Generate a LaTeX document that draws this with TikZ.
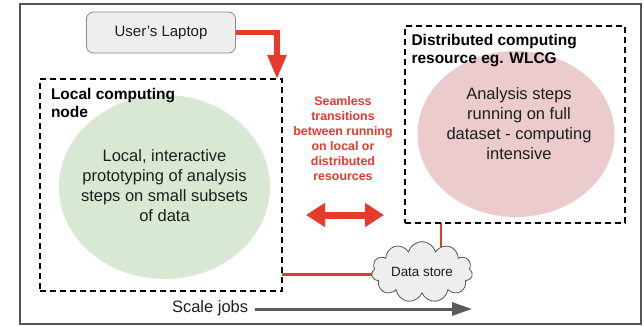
\documentclass[tikz,border=0pt]{standalone}
\usepackage{fontspec}
\setmainfont{Liberation Sans}
\usetikzlibrary{arrows.meta,shapes.geometric,shapes.symbols}

\definecolor{alertred}{HTML}{E63A2D}
\definecolor{framegray}{HTML}{555555}
\definecolor{localgreen}{HTML}{D9E8D3}
\definecolor{gridpink}{HTML}{EBCBCB}
\definecolor{boxgray}{HTML}{EEEEEE}
\definecolor{edgegray}{HTML}{8A8A8A}
\definecolor{jobgray}{HTML}{5A5A5A}
\definecolor{inkblack}{HTML}{1E1E1E}

\pgfdeclarelayer{links}
\pgfsetlayers{links,main}

\begin{document}
\begin{tikzpicture}[x=1pt, y=-1pt,
  every node/.style={inner sep=0pt, outer sep=0pt},
  dashbox/.style={draw=black, line width=1.4pt, dash pattern=on 6pt off 4pt},
  blob/.style={ellipse, fill=#1, draw=none},
  bodytext/.style={align=center, text=inkblack, font=\fontsize{16.5}{20}\selectfont},
  boxtitle/.style={align=left, text=black, font=\bfseries\fontsize{15.5}{18.5}\selectfont},
  redtext/.style={align=center, text=alertred, font=\bfseries\fontsize{12.4}{15}\selectfont},
  laptopbox/.style={draw=edgegray, line width=0.8pt, fill=boxgray, rounded corners=7pt,
    minimum width=149pt, minimum height=41pt, text=inkblack, font=\fontsize{15}{18}\selectfont},
  storecloud/.style={cloud, cloud puffs=11, aspect=2, draw=framegray, line width=0.8pt,
    fill=boxgray, minimum width=101pt, minimum height=51pt, text=inkblack,
    font=\fontsize{13.4}{16}\selectfont},
  feedarrow/.style={draw=alertred, line width=5.5pt, -{Triangle[length=24pt,width=18pt]}},
  swaparrow/.style={draw=alertred, line width=7pt,
    {Triangle[length=19pt,width=23pt]}-{Triangle[length=19pt,width=23pt]}},
  dataline/.style={draw=alertred, line width=2.5pt},
  jobsarrow/.style={draw=jobgray, line width=3pt, -{Triangle[length=20pt,width=13pt]}}
]
% canvas (on the lowest layer) and outer frame
\useasboundingbox (0,0) rectangle (644,326);
\begin{pgfonlayer}{links}
\fill[white] (0,0) rectangle (644,326);
\end{pgfonlayer}
\draw[framegray, line width=1.8pt] (20,4) rectangle (641,324);

% filled ellipses sit behind the dashed boxes
\node[blob=localgreen, minimum width=211pt, minimum height=184pt] (proto) at (164.5,187) {};
\node[blob=gridpink, minimum width=197pt, minimum height=166pt] (fullrun) at (516,134) {};

% dashed containers
\node[dashbox, minimum width=242pt, minimum height=212pt] (local) at (161,185) {};
\node[dashbox, minimum width=220pt, minimum height=197pt] (dist) at (515,124.5) {};

\node[boxtitle, anchor=north west] (localtitle) at (51,88) {Local computing\\node};
\node[boxtitle, anchor=north west] (disttitle) at (411.5,34) {Distributed computing\\resource eg. WLCG};

\node[bodytext, anchor=north] (prototext) at (164.5,150)
  {Local, interactive\\prototyping of analysis\\steps on small subsets\\of data};
\node[bodytext, anchor=north] (fulltext) at (519,88)
  {Analysis steps\\running on full\\dataset - computing\\intensive};

% user entry point
\node[laptopbox] (laptop) at (161,32.5) {User's Laptop};
\draw[feedarrow] (laptop.east) -| ([xshift=-5pt]local.north east);

% transition between the two resources
\node[redtext, anchor=north] (seamless) at (343,97)
  {Seamless\\transitions\\between running\\on local or\\distributed\\resources};
\coordinate (swapl) at (306,215);
\coordinate (swapr) at (384,215);
\draw[swaparrow] (swapl) -- (swapr);

% shared data store, linked to both resources from underneath
\node[storecloud] (store) at (422,272) {Data store};
\coordinate (distfoot) at (441,223);
\begin{pgfonlayer}{links}
\draw[dataline] (local.east |- 0,274.3) -- (store.center |- 0,274.3);
\draw[dataline] (distfoot) -- (distfoot |- store.center);
\end{pgfonlayer}

% scaling direction
\node[anchor=base west, text=inkblack, font=\fontsize{16.5}{20}\selectfont] (jobs) at (172,312) {Scale jobs};
\coordinate (jobsend) at (472,309);
\draw[jobsarrow] ([xshift=7pt]jobs.east |- jobsend) -- (jobsend);
\end{tikzpicture}
\end{document}
